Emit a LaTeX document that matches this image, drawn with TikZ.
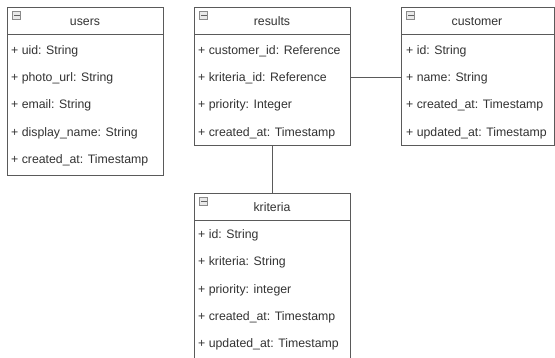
\documentclass[tikz,border=0pt]{standalone}
\usepackage{fontspec}
\setmainfont{Liberation Sans}
\definecolor{edge}{HTML}{5A5A5A}
\definecolor{txt}{HTML}{333333}
\definecolor{icon}{HTML}{8A8A8A}
\begin{document}
\begin{tikzpicture}[x=1pt,y=-1pt,
  box/.style={draw=edge,line width=1pt,fill=white},
  sep/.style={draw=edge,line width=1pt},
  title/.style={font=\fontsize{12.3}{14}\selectfont,text=txt,anchor=base,inner sep=0},
  attr/.style={font=\fontsize{12.3}{14}\selectfont,text=txt,anchor=base west,inner sep=0},
  link/.style={draw=edge,line width=1pt}]
\useasboundingbox (0,0) rectangle (555,357);
\newcommand{\ericon}[2]{%
  \fill[icon] (#1,#2) rectangle ++(9,9);
  \fill[white!80!icon] (#1+1,#2+1) rectangle ++(7,7);
  \fill[icon!70!black] (#1+1.5,#2+3.6) rectangle ++(6,1.8);}
% users
\draw[box] (7,7) rectangle (163,175);
\draw[sep] (7,34) -- (163,34);
\ericon{12}{11}
\node[title] (usersT) at (85,25) {users};
\node[attr] (u1) at (11,54) {+ uid: String};
\node[attr] (u2) at (11,81) {+ photo\_url: String};
\node[attr] (u3) at (11,108) {+ email: String};
\node[attr] (u4) at (11,136) {+ display\_name: String};
\node[attr] (u5) at (11,163) {+ created\_at: Timestamp};
% results
\draw[box] (194,7) rectangle (350,145);
\draw[sep] (194,34) -- (350,34);
\ericon{199}{11}
\node[title] (resultsT) at (272,25) {results};
\node[attr] (r1) at (198,54) {+ customer\_id: Reference};
\node[attr] (r2) at (198,81) {+ kriteria\_id: Reference};
\node[attr] (r3) at (198,108) {+ priority: Integer};
\node[attr] (r4) at (198,136) {+ created\_at: Timestamp};
% customer
\draw[box] (401,7) rectangle (554,145);
\draw[sep] (401,34) -- (554,34);
\ericon{406}{11}
\node[title] (customerT) at (477,25) {customer};
\node[attr] (c1) at (406,54) {+ id: String};
\node[attr] (c2) at (406,81) {+ name: String};
\node[attr] (c3) at (406,108) {+ created\_at: Timestamp};
\node[attr] (c4) at (406,136) {+ updated\_at: Timestamp};
% kriteria
\draw[box] (194,193) rectangle (350,359);
\draw[sep] (194,220) -- (350,220);
\ericon{199}{197}
\node[title] (kriteriaT) at (272,211) {kriteria};
\node[attr] (k1) at (198,238) {+ id: String};
\node[attr] (k2) at (198,265) {+ kriteria: String};
\node[attr] (k3) at (198,293) {+ priority: integer};
\node[attr] (k4) at (198,320) {+ created\_at: Timestamp};
\node[attr] (k5) at (198,347) {+ updated\_at: Timestamp};
% connectors
\coordinate (resR) at (350,77);
\coordinate (custL) at (401,77);
\coordinate (resB) at (272,145);
\coordinate (kriT) at (272,193);
\draw[link] (resR) -- (custL);
\draw[link] (resB) -- (kriT);
\end{tikzpicture}
\end{document}
